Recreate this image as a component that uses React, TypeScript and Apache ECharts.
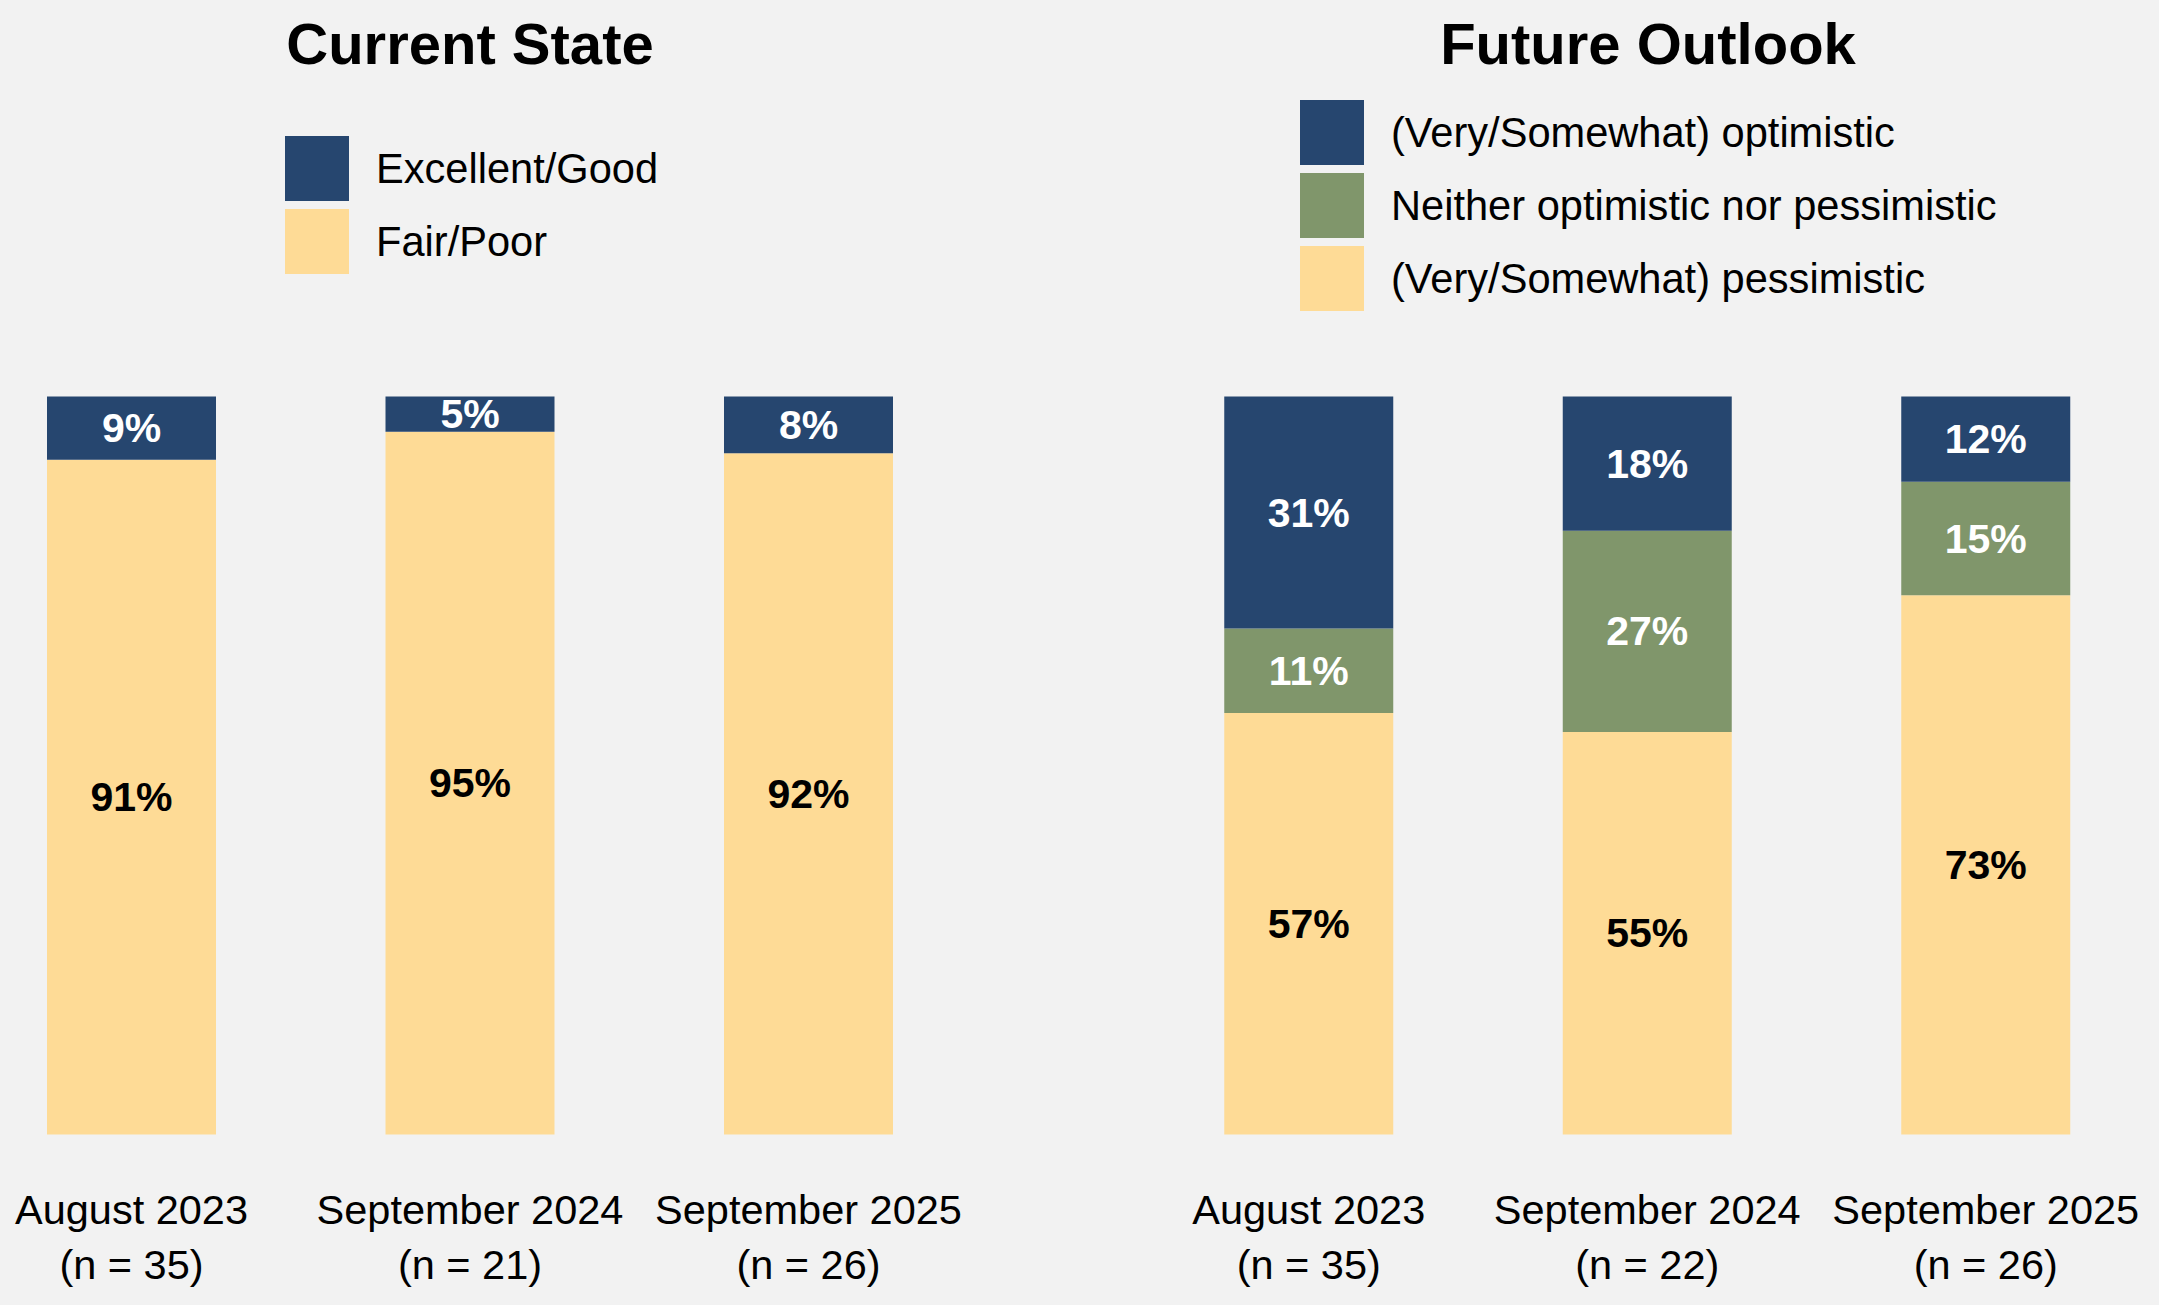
import * as echarts from 'echarts';
import React, { useEffect, useRef } from 'react';

const currentCategories = ['August 2023\n(n = 35)', 'September 2024\n(n = 21)', 'September 2025\n(n = 26)'];
const futureCategories = ['August 2023\n(n = 35)', 'September 2024\n(n = 22)', 'September 2025\n(n = 26)'];

// Current State (% of respondents)
const excellentGood = [8.57, 4.76, 7.69];
const fairPoor = [91.43, 95.24, 92.31];

// Future Outlook (% of respondents)
const optimistic = [31.43, 18.18, 11.54];
const neither = [11.43, 27.27, 15.38];
const pessimistic = [57.14, 54.55, 73.08];

const NAVY = '#26466F';
const GREEN = '#80966B';
const YELLOW = '#FEDB96';
const FONT = '"Liberation Sans", Arial, Helvetica, sans-serif';

const barLabel = (color: string) => ({
  show: true,
  position: 'inside' as const,
  color,
  fontFamily: FONT,
  fontSize: 41,
  fontWeight: 'bold' as const,
  formatter: (p: any) => `${Math.round(p.value)}%`,
});

const axisCommon = {
  type: 'category' as const,
  axisLine: { show: false },
  axisTick: { show: false },
  axisLabel: {
    color: '#000',
    fontFamily: FONT,
    fontSize: 41.5,
    lineHeight: 55,
    margin: 47,
    interval: 0,
  },
};

const legendCommon = {
  orient: 'vertical' as const,
  icon: 'rect',
  itemWidth: 64,
  itemHeight: 65,
  itemGap: 8,
  padding: 0,
  selectedMode: false,
  textStyle: { fontFamily: FONT, fontSize: 41.6, color: '#000', padding: [0, 0, 0, 22] },
};

const titleStyle = { fontFamily: FONT, fontSize: 58, fontWeight: 'bold' as const, color: '#000' };

const option: echarts.EChartsOption = {
  animation: false,
  backgroundColor: '#F2F2F2',
  title: [
    { text: 'Current State', left: 465, top: 9, textAlign: 'center', textStyle: titleStyle },
    { text: 'Future Outlook', left: 1643, top: 9, textAlign: 'center', textStyle: titleStyle },
  ],
  legend: [
    {
      ...legendCommon,
      data: ['Excellent/Good', 'Fair/Poor'],
      left: 285,
      top: 136,
    },
    {
      ...legendCommon,
      data: [
        '(Very/Somewhat) optimistic',
        'Neither optimistic nor pessimistic',
        '(Very/Somewhat) pessimistic',
      ],
      left: 1300,
      top: 100,
    },
  ],
  grid: [
    { left: -37.75, width: 1015.5, top: 396.6, height: 738, containLabel: false, outerBoundsMode: 'none' } as any,
    { left: 1139.5, width: 1015.5, top: 396.6, height: 738, containLabel: false, outerBoundsMode: 'none' } as any,
  ],
  xAxis: [
    { ...axisCommon, gridIndex: 0, data: currentCategories },
    { ...axisCommon, gridIndex: 1, data: futureCategories },
  ],
  yAxis: [
    { type: 'value', gridIndex: 0, min: 0, max: 100, show: false },
    { type: 'value', gridIndex: 1, min: 0, max: 100, show: false },
  ],
  series: [
    {
      name: 'Fair/Poor',
      type: 'bar',
      stack: 'current',
      xAxisIndex: 0,
      yAxisIndex: 0,
      barWidth: 169,
      data: fairPoor,
      itemStyle: { color: YELLOW },
      label: barLabel('#000'),
    },
    {
      name: 'Excellent/Good',
      type: 'bar',
      stack: 'current',
      xAxisIndex: 0,
      yAxisIndex: 0,
      barWidth: 169,
      data: excellentGood,
      itemStyle: { color: NAVY },
      label: barLabel('#fff'),
    },
    {
      name: '(Very/Somewhat) pessimistic',
      type: 'bar',
      stack: 'future',
      xAxisIndex: 1,
      yAxisIndex: 1,
      barWidth: 169,
      data: pessimistic,
      itemStyle: { color: YELLOW },
      label: barLabel('#000'),
    },
    {
      name: 'Neither optimistic nor pessimistic',
      type: 'bar',
      stack: 'future',
      xAxisIndex: 1,
      yAxisIndex: 1,
      barWidth: 169,
      data: neither,
      itemStyle: { color: GREEN },
      label: barLabel('#fff'),
    },
    {
      name: '(Very/Somewhat) optimistic',
      type: 'bar',
      stack: 'future',
      xAxisIndex: 1,
      yAxisIndex: 1,
      barWidth: 169,
      data: optimistic,
      itemStyle: { color: NAVY },
      label: barLabel('#fff'),
    },
  ],
};

const App: React.FC = () => {
  const chartRef = useRef<HTMLDivElement>(null);

  useEffect(() => {
    if (!chartRef.current) return;
    const instance = echarts.init(chartRef.current, undefined, { renderer: 'svg' });
    instance.setOption(option);
    return () => {
      instance.dispose();
    };
  }, []);

  return (
    <div
      ref={chartRef}
      style={{ position: 'absolute', left: 0, top: 0, width: 2159, height: 1305, background: '#F2F2F2' }}
    />
  );
};

export default App;
